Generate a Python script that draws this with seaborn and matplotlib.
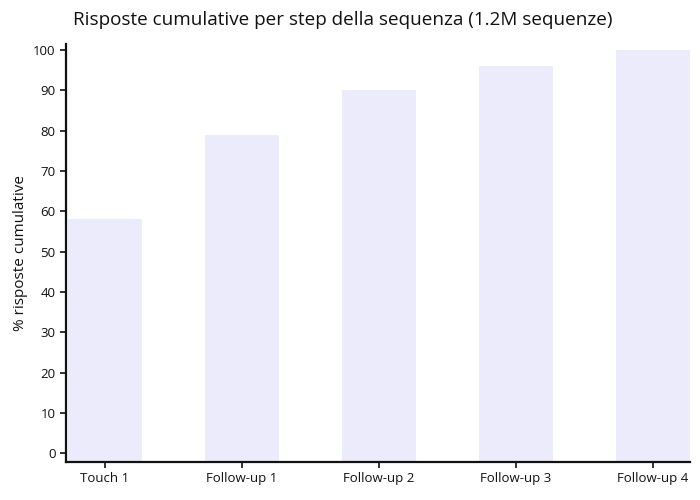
import matplotlib
matplotlib.use("Agg")
import matplotlib.pyplot as plt
import seaborn as sns
import pandas as pd

categories = ["Touch 1", "Follow-up 1", "Follow-up 2", "Follow-up 3", "Follow-up 4"]
values = [58, 79, 90, 96, 100]
yticks = [0, 10, 20, 30, 40, 50, 60, 70, 80, 90, 100]

sns.set_theme(style="ticks")
plt.rcParams["font.family"] = ["Open Sans", "DejaVu Sans"]

df = pd.DataFrame({"step": categories, "pct": values})

fig = plt.figure(figsize=(7, 5), dpi=100)
ax = fig.add_axes([66/700, 1-462/500, (690-66)/700, (462-44)/500])

sns.barplot(data=df, x="step", y="pct", color="#EBEBFB", saturation=1,
            width=0.54, ax=ax, edgecolor="none")

floor = -2.2
ax.set_ylim(floor, 101.5)
ax.set_xlim(-0.285, 4.27)
for p in ax.patches:
    h = p.get_height()
    p.set_y(floor)
    p.set_height(h - floor)

ax.set_yticks(yticks)
ax.set_xlabel("")
ax.set_ylabel("% risposte cumulative", fontsize=11, color="#111111")
ax.tick_params(axis="both", labelsize=9.5, length=4, width=1.2, colors="#111111", direction="out")
for s in ["left", "bottom"]:
    ax.spines[s].set_linewidth(1.6)
    ax.spines[s].set_color("#111111")
sns.despine(ax=ax)

fig.text(73/700, 1-20/500, "Risposte cumulative per step della sequenza (1.2M sequenze)",
         fontsize=13.6, va="center", ha="left", color="#111111")

fig.savefig("out.png", dpi=100)
